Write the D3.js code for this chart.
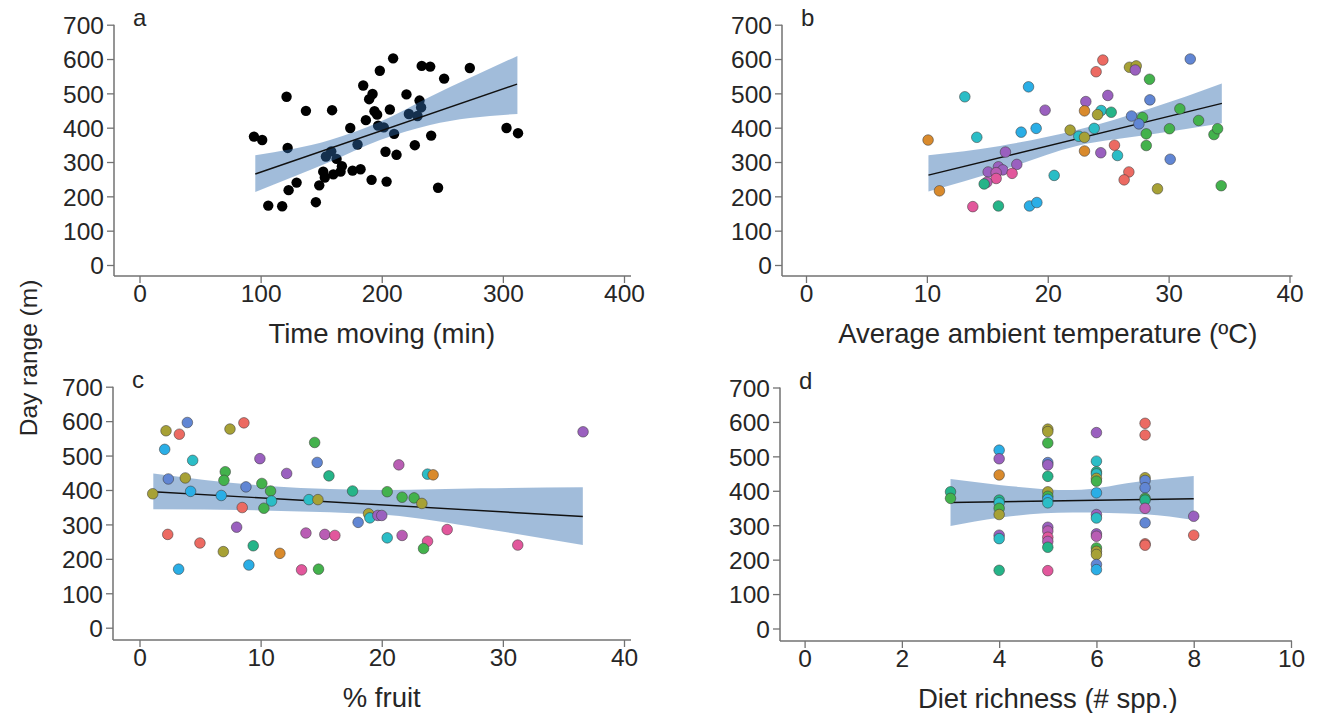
<!DOCTYPE html>
<html><head><meta charset="utf-8">
<script src="https://cdn.jsdelivr.net/npm/d3@7"></script>
<style>
body{margin:0;background:#fff}
svg{display:block}
text{font-family:"Liberation Sans",Arial,sans-serif;font-weight:400;fill:#262626}
</style>
</head><body>
<svg id="chart" width="1326" height="713"></svg>
<script>
// ---------- tick labels ----------
const yTicks = [0, 100, 200, 300, 400, 500, 600, 700];
const aTicks = [0, 100, 200, 300, 400];
const bTicks = [0, 10, 20, 30, 40];
const cTicks = [0, 10, 20, 30, 40];
const dTicks = [0, 2, 4, 6, 8, 10];

const panelLetters = ["a", "b", "c", "d"];
const xTitles = ["Time moving (min)", "Average ambient temperature (ºC)", "% fruit", "Diet richness (# spp.)"];
const yTitle = "Day range (m)";

// ---------- panel a : time moving ----------
const aTime = [209.4,233,240,272.7,198.4,251.5,184.7,121.4,192.4,189.6,220.4,231.2,137.4,159,206.7,194,196.2,232.5,222.4,229.5,186.9,197,201.7,174,303,312.5,210.2,240.8,94.5,101.3,180,122.3,227.3,158.3,203.1,212.2,153.9,162.7,167.1,151.7,166,175.9,182.5,160,153,129.7,191.6,204,148.4,123.1,246.5,145.6,106.3,117.8];
const aRange = [602,580,578,574,566,543,523,490,498,483,497,479,449,451,453,448,438,459,440,434,422,406,401,399,399,384,382,377,374,364,351,341,349,331,330,321,316,309,288,272,272,275,279,264,255,240,248,243,232,218,225,183,173,171];
const aFitX  = [95.6, 157.3, 198.6, 239.9, 312];
const aFitLo = [213, 301, 364, 408, 440];
const aFitHi = [320, 364, 417, 490, 609];
const aLineX = [95.6, 311.7];
const aLineY = [265, 527];

// ---------- panel b : temperature ----------
const bTemp = [24.56,24.0,26.76,27.32,27.24,31.79,28.42,13.14,18.41,24.97,23.15,28.45,19.78,23.04,24.42,24.12,25.25,26.93,27.84,27.54,30.93,32.48,33.75,34.05,30.07,28.15,28.15,21.85,23.84,22.57,23.04,19.04,17.8,14.13,10.1,16.5,23.04,24.39,25.52,25.77,30.13,17.44,15.07,15.92,16.28,15.73,17.05,15.73,14.96,14.74,20.53,26.71,26.32,11.04,29.08,34.35,13.8,15.92,18.49,19.1];
const bRange = [597,563,576,580,568,600,541,490,519,494,476,481,451,449,450,438,445,434,430,411,455,421,380,397,397,382,348,393,398,375,372,398,387,372,364,329,332,327,349,319,308,293,271,286,277,269,267,252,241,236,261,271,248,216,222,231,170,172,172,182];
const bGroup = ["r","r","ol","ol","p","b","g","c","s","p","p","b","p","o","c","ol","t","b","g","b","g","g","g","g","g","g","g","ol","c","c","ol","s","s","c","o","p","o","p","r","c","b","p","p","p","p","m","k","k","m","t","c","r","r","o","ol","g","k","t","s","s"];
const bFitX  = [10.13, 16.06, 22.4, 28.47, 34.4];
const bFitLo = [214, 275, 347, 380, 413];
const bFitHi = [320, 347, 393, 456, 529];
const bLineX = [10.13, 34.41];
const bLineY = [262, 471];

// ---------- panel c : % fruit ----------
const cFruit = [3.95,2.19,3.29,7.47,8.62,2.08,4.39,14.46,9.94,12.15,14.67,15.64,7.08,6.97,2.38,3.78,1.09,4.22,6.75,8.79,10.1,10.82,10.9,10.27,8.48,13.99,14.73,17.59,20.45,18.91,19.02,19.68,20.0,18.05,8.02,2.33,13.74,15.3,16.13,4.99,6.92,9.39,11.59,20.45,3.23,9.03,13.38,14.78,36.62,21.41,23.78,24.24,21.68,22.67,23.31,21.68,23.78,23.45,25.4,31.23];
const cRange = [596,572,562,577,595,518,486,538,491,448,480,441,453,428,432,435,389,396,384,409,419,397,368,347,349,372,372,397,395,331,319,326,326,306,292,271,275,271,268,246,221,238,216,261,170,182,168,170,569,473,446,444,379,377,361,268,251,230,285,240];
const cGroup = ["b","ol","r","ol","r","s","c","g","p","p","b","t","g","g","b","ol","ol","s","s","b","g","g","c","g","r","c","ol","t","g","ol","c","p","p","b","p","r","m","m","k","r","ol","t","o","c","s","s","k","g","p","m","c","o","g","g","ol","m","k","g","k","k"];
const cFitX  = [1.14, 10.9, 20.5, 28.2, 36.6];
const cFitLo = [344, 340, 327, 289, 240];
const cFitHi = [448, 411, 400, 405, 408];
const cLineX = [1.14, 36.6];
const cLineY = [395, 323];

// ---------- panel d : diet richness ----------
const dRich = [3,3, 4,4,4,4,4,4,4,4,4,4, 5,5,5,5,5,5,5,5,5,5,5,5,5,5,5,5, 6,6,6,6,6,6,6,6,6,6,6,6,6,6,6,6, 7,7,7,7,7,7,7,7,7,7,7, 8,8];
const dRange = [397,378, 518,493,446,373,365,349,331,271,261,169, 579,572,539,482,475,442,397,384,375,365,294,283,265,253,236,168, 569,486,455,449,436,428,394,331,321,275,268,234,224,215,186,171, 596,562,438,430,409,378,373,349,307,246,242, 326,271];
const dGroup = ["t","g", "s","p","o","t","c","g","ol","p","c","t", "ol","ol","g","b","p","t","ol","g","s","c","p","m","k","m","t","k", "p","c","t","c","ol","g","s","p","c","p","m","g","ol","ol","b","s", "r","r","ol","b","b","g","t","m","b","r","r", "p","r"];
const dFitX  = [3, 4, 5.5, 7, 8];
const dFitLo = [298, 322, 337, 332, 315];
const dFitHi = [434, 417, 402, 429, 443];
const dLineX = [3, 8];
const dLineY = [366, 377];

// ---------- colours ----------
const palette = {r:"#ec6a62", o:"#d98a2c", ol:"#a7a135", g:"#43b24c", t:"#25b488", c:"#2bbdc6", s:"#2aaee6", b:"#6186d4", p:"#9a60bf", m:"#b95db4", k:"#e2579c"};

const svg = d3.select("#chart");

const panels = [
  {letter: panelLetters[0], title: xTitles[0], ticks: aTicks, xDom: [0,400], xR: [139.5,624], yR: [265,24.7], yAx: 114, xAx: 276,
   xs: aTime, ys: aRange, gs: null, fx: aFitX, flo: aFitLo, fhi: aFitHi, lx: aLineX, ly: aLineY, bandOver: true, ext: 7},
  {letter: panelLetters[1], title: xTitles[1], ticks: bTicks, xDom: [0,40], xR: [806,1289.5], yR: [265,24.7], yAx: 782, xAx: 276,
   xs: bTemp, ys: bRange, gs: bGroup, fx: bFitX, flo: bFitLo, fhi: bFitHi, lx: bLineX, ly: bLineY, bandOver: false, ext: 3},
  {letter: panelLetters[2], title: xTitles[2], ticks: cTicks, xDom: [0,40], xR: [139.5,624], yR: [627.7,386.7], yAx: 113, xAx: 640,
   xs: cFruit, ys: cRange, gs: cGroup, fx: cFitX, flo: cFitLo, fhi: cFitHi, lx: cLineX, ly: cLineY, bandOver: false, ext: 7},
  {letter: panelLetters[3], title: xTitles[3], ticks: dTicks, xDom: [0,10], xR: [804.6,1291], yR: [628.5,387.5], yAx: 780, xAx: 641,
   xs: dRich, ys: dRange, gs: dGroup, fx: dFitX, flo: dFitLo, fhi: dFitHi, lx: dLineX, ly: dLineY, bandOver: false, ext: 1}
];

const axisCol = "#727272";

panels.forEach(p => {
  const x = d3.scaleLinear().domain(p.xDom).range(p.xR);
  const y = d3.scaleLinear().domain([0,700]).range(p.yR);
  const g = svg.append("g");

  // y axis
  const yg = g.append("g").attr("transform", `translate(${p.yAx},0)`)
    .call(d3.axisLeft(y).tickValues(yTicks).tickSize(7).tickPadding(3).tickFormat(d3.format("d")));
  yg.select(".domain").remove();
  yg.selectAll(".tick line").attr("stroke", axisCol).attr("stroke-width", 1.3);
  yg.selectAll(".tick text").style("font-size", "24.5px").attr("fill", "#262626").attr("dy", "0.36em");
  g.append("line").attr("x1", p.yAx).attr("x2", p.yAx).attr("y1", y(700)).attr("y2", p.xAx)
    .attr("stroke", axisCol).attr("stroke-width", 1.5);

  // x axis
  const xg = g.append("g").attr("transform", `translate(0,${p.xAx})`)
    .call(d3.axisBottom(x).tickValues(p.ticks).tickSize(7).tickPadding(2).tickFormat(d3.format("d")));
  xg.select(".domain").remove();
  xg.selectAll(".tick line").attr("stroke", axisCol).attr("stroke-width", 1.3);
  xg.selectAll(".tick text").style("font-size", "24.5px").attr("fill", "#262626");
  g.append("line").attr("x1", p.yAx).attr("x2", x(p.xDom[1]) + p.ext).attr("y1", p.xAx).attr("y2", p.xAx)
    .attr("stroke", axisCol).attr("stroke-width", 1.5);

  // x title
  g.append("text").attr("x", (x(p.xDom[0]) + x(p.xDom[1])) / 2).attr("y", p.xAx + 67)
    .attr("text-anchor", "middle").style("font-size", "27.5px").text(p.title);

  // panel letter
  g.append("text").attr("x", p.yAx + 19).attr("y", y(700) + 1).style("font-size", "24px").text(p.letter);

  // band + line
  const bandData = p.fx.map((v, i) => ({x: v, lo: p.flo[i], hi: p.fhi[i]}));
  const area = d3.area().x(d => x(d.x)).y0(d => y(d.lo)).y1(d => y(d.hi)).curve(d3.curveMonotoneX);
  const lineData = p.lx.map((v, i) => ({x: v, y: p.ly[i]}));
  const line = d3.line().x(d => x(d.x)).y(d => y(d.y));

  const pts = p.xs.map((v, i) => ({x: v, y: p.ys[i], g: p.gs ? p.gs[i] : null}));

  function drawPoints() {
    g.append("g").selectAll("circle").data(pts).join("circle")
      .attr("cx", d => x(d.x)).attr("cy", d => y(d.y))
      .attr("r", p.gs ? 5.3 : 5.2)
      .attr("fill", d => d.g ? palette[d.g] : "#000")
      .attr("stroke", d => d.g ? "rgba(60,60,60,0.55)" : "none")
      .attr("stroke-width", 1);
  }
  function drawFit() {
    g.append("path").datum(bandData).attr("d", area).attr("fill", "#2f6aac").attr("fill-opacity", 0.45);
    g.append("path").datum(lineData).attr("d", line).attr("stroke", "#111").attr("stroke-width", 1.4).attr("fill", "none");
  }
  if (p.bandOver) { drawPoints(); drawFit(); } else { drawFit(); drawPoints(); }
});

// shared y title
svg.append("text").attr("transform", "translate(37,358) rotate(-90)")
  .attr("text-anchor", "middle").style("font-size", "24.5px").text(yTitle);
</script>
</body></html>
